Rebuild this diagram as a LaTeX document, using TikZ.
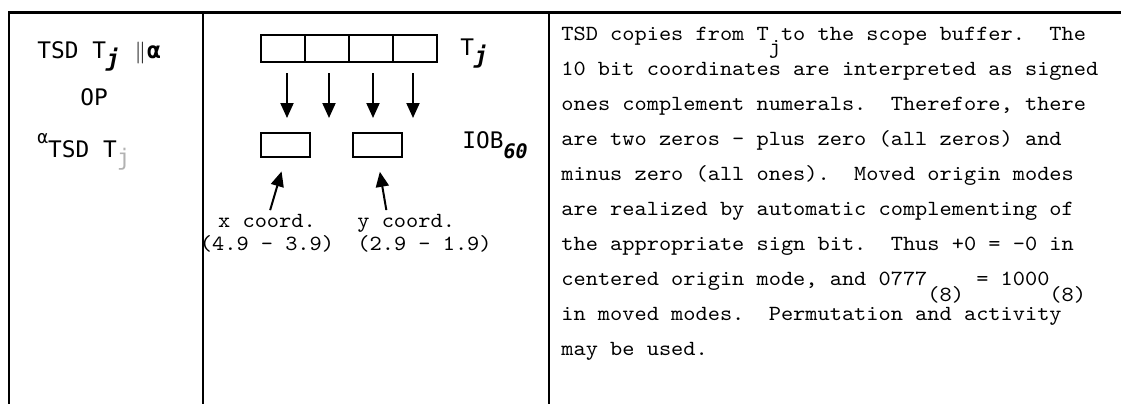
\documentclass[tikz,border=0pt]{standalone}
\usepackage{fontspec}
\newfontfamily\typer[FakeStretch=1.076]{Latin Modern Mono}
\newfontfamily\gothic{DejaVu Sans Mono}
\usetikzlibrary{arrows.meta}

\tikzset{
  rule/.style={line width=1.3pt},
  cell/.style={draw, line width=1pt, minimum width=22pt, minimum height=13.5pt, inner sep=0pt},
  slot/.style={draw, line width=1pt, minimum width=24.5pt, minimum height=12pt, inner sep=0pt},
  feed/.style={line width=1pt, -{Triangle[length=7.5pt,width=6.5pt]}},
  opcode/.style={font=\gothic\fontsize{11.4}{13}\selectfont, anchor=base west, inner sep=0pt},
  typed/.style={font=\typer\fontsize{10.8}{11.5}\selectfont, inner sep=0pt},
}

\begin{document}
\begin{tikzpicture}[x=0.5pt, y=-0.5pt]
    \useasboundingbox (0,0) rectangle (1143,404);

    % Rahmen
    \draw[rule, line width=1.5pt] (8,12) -- (1121,12);
    \draw[rule] (9,12) -- (9,404);
    \draw[rule] (203,12) -- (203,404);
    \draw[rule] (549,12) -- (549,404);

    % Befehl
    \node[opcode] (op1) at (37,58) {TSD T\raisebox{-4pt}{\bfseries\itshape j}\ \makebox[0.6em]{$\|$}\textbf{α}};
    \node[opcode] (op2) at (80,105) {OP};
    \node[opcode] (op3) at (37,157) {\raisebox{7pt}{\fontsize{9}{10}\selectfont α}TSD T\raisebox{-4pt}{\color{black!30}j}};

    % Register T_j
    \foreach \i in {1,...,4}
        \node[cell] (c\i) at ({239+44*\i},48.5) {};
    \node[opcode] (tj) at (460,55) {T\raisebox{-4pt}{\bfseries\itshape j}};

    % Puffer
    \node[slot] (xb) at (285.5,145) {};
    \node[slot] (yb) at (377.5,145) {};
    \node[opcode] (iob) at (462,148) {IOB\raisebox{-5pt}{\bfseries\itshape\fontsize{10}{11}\selectfont 60}};

    \foreach \i/\s in {1/4,2/2,3/2,4/-2}
        \draw[feed] ([xshift=\s*0.5pt]c\i.south) ++(0,10) -- ++(0,45);

    % Koordinaten
    \node[typed, align=center, anchor=north] (xl) at (267,214) {x coord.\\(4.9 - 3.9)};
    \node[typed, align=left, anchor=north west] (yl) at (357,214) {y coord.\\(2.9 - 1.9)};
    \draw[feed, shorten <=2pt, shorten >=7pt] ([xshift=1pt]xl.north) -- (xb.south);
    \draw[feed, shorten <=2pt, shorten >=7pt] ([xshift=15pt]yl.north west) -- (yb.south);

    % Beschreibung
    \node[typed, font=\typer\fontsize{10.8}{17.5}\selectfont, align=left, anchor=north west] (desc) at (561,27) {%
TSD copies from T\rlap{\raisebox{-6.5pt}{j}}\ to the scope buffer.\ \ The\\
10 bit coordinates are interpreted as signed\\
ones complement numerals.\ \ Therefore, there\\
are two zeros - plus zero (all zeros) and\\
minus zero (all ones).\ \ Moved origin modes\\
are realized by automatic complementing of\\
the appropriate sign bit.\ \ Thus +0 = -0 in\\
centered origin mode, and 0777\raisebox{-8pt}[0pt][0pt]{(8)} = 1000\raisebox{-8pt}[0pt][0pt]{(8)}\\
in moved modes.\ \ Permutation and activity\\
may be used.};
\end{tikzpicture}
\end{document}
